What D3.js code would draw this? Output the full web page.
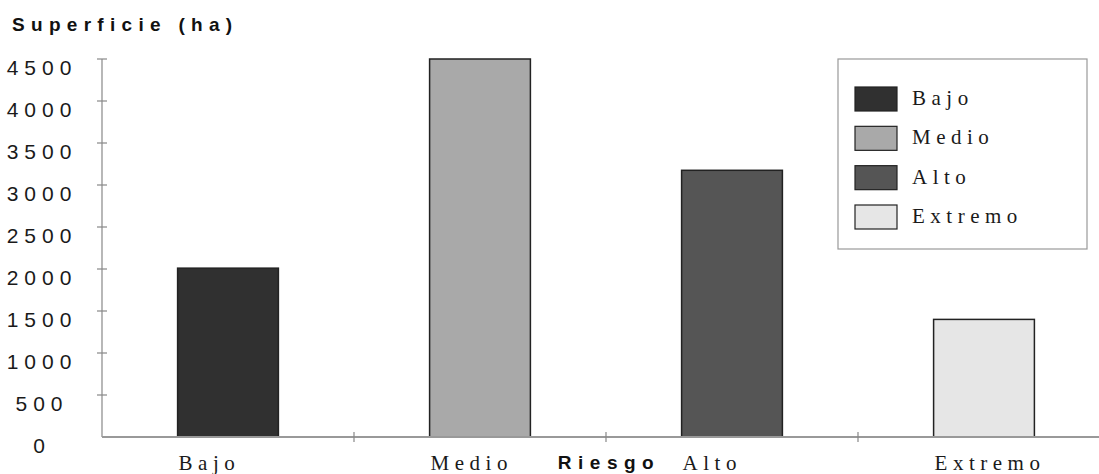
<!DOCTYPE html>
<html>
<head>
<meta charset="utf-8">
<script src="https://cdn.jsdelivr.net/npm/d3@7"></script>
<style>
  html, body { margin: 0; padding: 0; background: #fff; }
  svg { display: block; }
</style>
</head>
<body>
<svg id="chart" width="1099" height="474"></svg>
<script>
const categories = ["Bajo", "Medio", "Alto", "Extremo"];
const values = [2010, 4500, 3175, 1400];
const colors = ["#303030", "#a9a9a9", "#555555", "#e6e6e6"];
const yTicks = [0, 500, 1000, 1500, 2000, 2500, 3000, 3500, 4000, 4500];
const yTitle = "Superficie (ha)";
const xTitle = "Riesgo";

(function () {
const svg = d3.select("#chart");
const W = 1099, H = 474;
const mLeft = 102, mRight = 1110, mTop = 59, mBottom = 437;

const x = d3.scaleBand().domain(categories).range([mLeft, mRight])
  .paddingInner(0.6).paddingOuter(0.3);
const y = d3.scaleLinear().domain([0, 4500]).range([mBottom, mTop]);
const color = d3.scaleOrdinal().domain(categories).range(colors);
const step = x.step();

// Y axis line
svg.append("line").attr("x1", mLeft).attr("x2", mLeft)
  .attr("y1", y(4500)).attr("y2", y(0))
  .attr("stroke", "#888").attr("stroke-width", 1.2);

// Y ticks
svg.selectAll(".ytick").data(yTicks.filter(d => d > 0)).enter().append("line")
  .attr("x1", mLeft - 5).attr("x2", mLeft + 5)
  .attr("y1", d => y(d)).attr("y2", d => y(d))
  .attr("stroke", "#888").attr("stroke-width", 1.2);

// Y labels
svg.selectAll(".ylab").data(yTicks).enter().append("text")
  .attr("x", 42).attr("y", d => y(d) + 15.5)
  .attr("text-anchor", "middle")
  .attr("font-family", "Liberation Sans, Arial, sans-serif")
  .attr("font-size", 21).attr("letter-spacing", 6)
  .attr("fill", "#1a1a1a")
  .text(d => d);

// Y title
svg.append("text").attr("x", 12).attr("y", 31)
  .attr("font-family", "Liberation Sans, Arial, sans-serif")
  .attr("font-weight", "bold").attr("font-size", 19).attr("letter-spacing", 6.3)
  .attr("fill", "#111").text(yTitle);

// Bars
svg.selectAll(".bar").data(categories).enter().append("rect")
  .attr("x", d => x(d)).attr("width", x.bandwidth())
  .attr("y", (d, i) => y(values[i]))
  .attr("height", (d, i) => y(0) - y(values[i]))
  .attr("fill", d => color(d))
  .attr("stroke", "#222").attr("stroke-width", 1.5);

// X axis line
svg.append("line").attr("x1", mLeft).attr("x2", W)
  .attr("y1", y(0)).attr("y2", y(0))
  .attr("stroke", "#999").attr("stroke-width", 2);

// X ticks at category boundaries
svg.selectAll(".xtick").data(categories.slice(0, -1)).enter().append("line")
  .attr("x1", d => x(d) + x.bandwidth() + step * 0.3)
  .attr("x2", d => x(d) + x.bandwidth() + step * 0.3)
  .attr("y1", y(0) - 5).attr("y2", y(0) + 5)
  .attr("stroke", "#888").attr("stroke-width", 1.2);

// X labels
svg.selectAll(".xlab").data(categories).enter().append("text")
  .attr("x", d => x(d) + 1).attr("y", 470)
  .attr("font-family", "Liberation Serif, Times New Roman, serif")
  .attr("font-size", 21).attr("letter-spacing", 5.5)
  .attr("fill", "#1a1a1a")
  .text(d => d);

// X title
svg.append("text").attr("x", (mLeft + mRight) / 2 + 3).attr("y", 469)
  .attr("text-anchor", "middle")
  .attr("font-family", "Liberation Sans, Arial, sans-serif")
  .attr("font-weight", "bold").attr("font-size", 19).attr("letter-spacing", 6.5)
  .attr("fill", "#111").text(xTitle);

// Legend
const lg = svg.append("g");
lg.append("rect").attr("x", 838).attr("y", 59).attr("width", 249).attr("height", 190)
  .attr("fill", "#fff").attr("stroke", "#999").attr("stroke-width", 1.2);
const ly = d3.scaleLinear().domain([0, categories.length - 1]).range([87, 205]);
lg.selectAll(".sw").data(categories).enter().append("rect")
  .attr("x", 855).attr("y", (d, i) => ly(i)).attr("width", 42).attr("height", 24)
  .attr("fill", d => color(d)).attr("stroke", "#222").attr("stroke-width", 1.2);
lg.selectAll(".lt").data(categories).enter().append("text")
  .attr("x", 912).attr("y", (d, i) => ly(i) + 18)
  .attr("font-family", "Liberation Serif, Times New Roman, serif")
  .attr("font-size", 21).attr("letter-spacing", 5.5)
  .attr("fill", "#1a1a1a")
  .text(d => d);
})();
</script>
</body>
</html>
